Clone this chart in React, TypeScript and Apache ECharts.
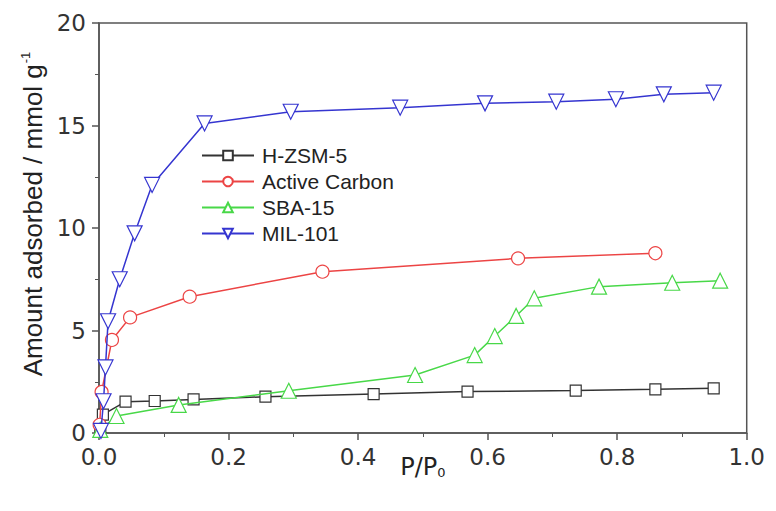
import React, { useEffect, useRef } from "react";
import * as echarts from "echarts";

const seriesNames = ["H-ZSM-5", "Active Carbon", "SBA-15", "MIL-101"];

const hzsm5: [number, number][] = [
  [0.002, 0.2], [0.006, 0.9], [0.041, 1.53], [0.086, 1.56], [0.146, 1.64],
  [0.257, 1.77], [0.424, 1.9], [0.569, 2.02], [0.736, 2.07], [0.859, 2.13], [0.949, 2.18],
];
const activeCarbon: [number, number][] = [
  [0.001, 0.4], [0.004, 2.0], [0.02, 4.54], [0.048, 5.64], [0.14, 6.65],
  [0.345, 7.87], [0.647, 8.52], [0.859, 8.77],
];
const sba15: [number, number][] = [
  [0.002, 0.15], [0.027, 0.83], [0.123, 1.37], [0.293, 2.06], [0.488, 2.83],
  [0.58, 3.8], [0.611, 4.73], [0.644, 5.71], [0.672, 6.57], [0.772, 7.14],
  [0.885, 7.33], [0.959, 7.43],
];
const mil101: [number, number][] = [
  [0.003, 0.1], [0.007, 1.55], [0.01, 3.2], [0.014, 5.45], [0.032, 7.5],
  [0.055, 9.74], [0.082, 12.1], [0.163, 15.1], [0.296, 15.67], [0.465, 15.87],
  [0.596, 16.08], [0.706, 16.16], [0.798, 16.28], [0.872, 16.52], [0.949, 16.6],
];

const colors = ["#333333", "#ec4444", "#48d848", "#3535d0"];
const symbols = ["rect", "circle", "triangle", "triangle"];
const rotates = [0, 0, 0, 180];
const sizes = [11, 13, 15, 15];
const dataSets = [hzsm5, activeCarbon, sba15, mil101];

export default function App() {
  const ref = useRef<HTMLDivElement>(null);
  useEffect(() => {
    if (!ref.current) return;
    const chart = echarts.init(ref.current, null, { renderer: "svg" });
    const arial = "Liberation Sans, Arial, sans-serif";
    const wide = "DejaVu Sans, sans-serif";
    chart.setOption({
      animation: false,
      backgroundColor: "#ffffff",
      grid: {
        left: 91, top: 15, right: 18, bottom: 70,
        show: true, borderColor: "#555", borderWidth: 1.5, backgroundColor: "transparent",
      },
      legend: {
        orient: "vertical",
        left: 188, top: 132,
        itemWidth: 52, itemHeight: 12, itemGap: 5,
        textStyle: { fontSize: 21, lineHeight: 20, color: "#222", fontFamily: arial, padding: [0, 0, 0, 3] },
        data: seriesNames,
      },
      xAxis: {
        type: "value", min: 0, max: 1, interval: 0.2,
        name: "P/P{sub|0}",
        nameLocation: "middle", nameGap: 22,
        nameMoveOverlap: false,
        nameTextStyle: {
          fontSize: 24, color: "#222", fontFamily: wide,
          rich: { sub: { fontSize: 13, verticalAlign: "bottom", color: "#222", fontFamily: wide } },
        },
        axisLine: { lineStyle: { color: "#555", width: 1.5 } },
        axisTick: { inside: false, length: 7, lineStyle: { color: "#555", width: 1.5 } },
        minorTick: { show: true, splitNumber: 2, length: 4, lineStyle: { color: "#555" } },
        splitLine: { show: false },
        axisLabel: {
          fontSize: 23, color: "#333", fontFamily: wide, margin: 12,
          formatter: (v: number) => v.toFixed(1),
        },
      },
      yAxis: {
        type: "value", min: 0, max: 20, interval: 5,
        name: "Amount adsorbed / mmol g{sup|-1}",
        nameLocation: "middle", nameGap: 53,
        nameMoveOverlap: false,
        nameTextStyle: {
          fontSize: 26, color: "#222", fontFamily: arial, padding: [0, 0, 0, 28],
          rich: { sup: { fontSize: 13, verticalAlign: "top", padding: [0, 0, 14, 1], color: "#222", fontFamily: arial } },
        },
        axisLine: { lineStyle: { color: "#555", width: 1.5 } },
        axisTick: { inside: false, length: 7, lineStyle: { color: "#555", width: 1.5 } },
        minorTick: { show: true, splitNumber: 2, length: 4, lineStyle: { color: "#555" } },
        splitLine: { show: false },
        axisLabel: { fontSize: 23, color: "#333", fontFamily: wide, margin: 13 },
      },
      series: seriesNames.map((name, i) => ({
        name,
        type: "line",
        data: dataSets[i],
        symbol: symbols[i],
        symbolRotate: rotates[i],
        symbolSize: sizes[i],
        showAllSymbol: true,
        lineStyle: { color: colors[i], width: 1.5 },
        itemStyle: { color: "#ffffff", borderColor: colors[i], borderWidth: 1.2 },
        z: 2 + i,
      })),
    });
    return () => chart.dispose();
  }, []);
  return <div ref={ref} style={{ width: 760, height: 495 }} />;
}
